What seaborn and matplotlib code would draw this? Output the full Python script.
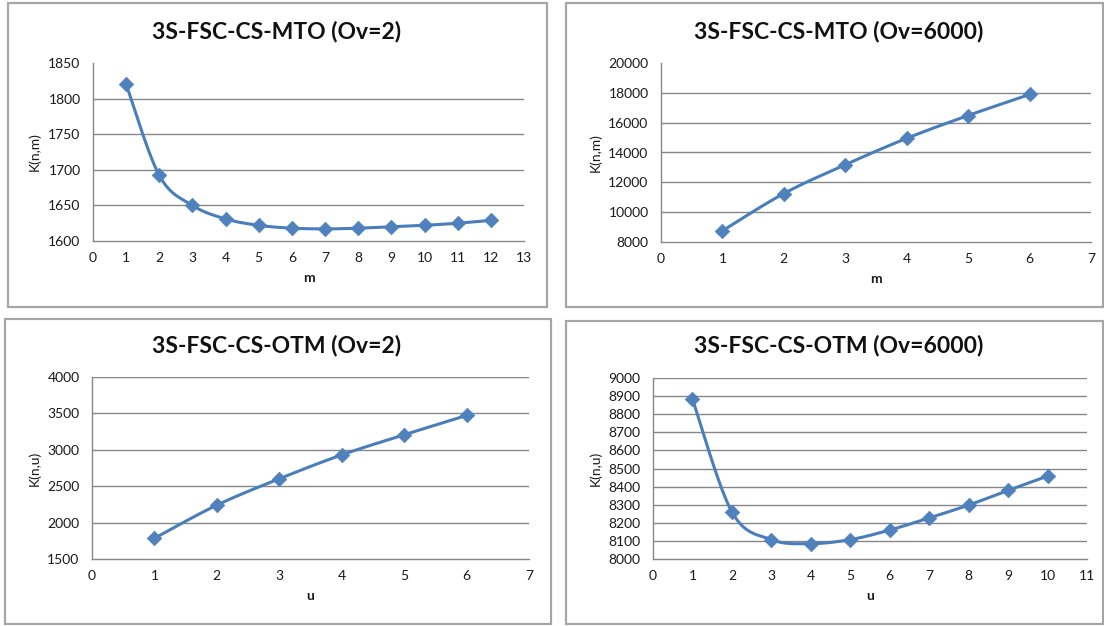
import numpy as np
import pandas as pd
import matplotlib
matplotlib.use("Agg")
import matplotlib.pyplot as plt
from matplotlib.patches import Rectangle
import seaborn as sns

# ---------------- data ----------------
titles = ["3S-FSC-CS-MTO (Ov=2)", "3S-FSC-CS-MTO (Ov=6000)",
          "3S-FSC-CS-OTM (Ov=2)", "3S-FSC-CS-OTM (Ov=6000)"]
xlabels = ["m", "m", "u", "u"]
ylabels = ["K(n,m)", "K(n,m)", "K(n,u)", "K(n,u)"]

mto_ov2_x = list(range(1, 13))
mto_ov2_y = [1820, 1692, 1650, 1631, 1622, 1618, 1617, 1618, 1620, 1622, 1625, 1629]

mto_ov6000_x = list(range(1, 7))
mto_ov6000_y = [8750, 11250, 13180, 14950, 16480, 17890]

otm_ov2_x = list(range(1, 7))
otm_ov2_y = [1785, 2240, 2602, 2930, 3206, 3472]

otm_ov6000_x = list(range(1, 11))
otm_ov6000_y = [8884, 8260, 8107, 8085, 8107, 8160, 8227, 8298, 8379, 8458]

xlims = [(0, 13), (0, 7), (0, 7), (0, 11)]
ylims = [(1600, 1850), (8000, 20000), (1500, 4000), (8000, 9000)]
ysteps = [50, 2000, 500, 100]
top_grid = [False, False, True, True]

series = [(mto_ov2_x, mto_ov2_y), (mto_ov6000_x, mto_ov6000_y),
          (otm_ov2_x, otm_ov2_y), (otm_ov6000_x, otm_ov6000_y)]

# ---------------- layout (pixels) ----------------
W, H = 1104, 626
# plot areas: left, right, top, bottom in px
areas = [(93, 524, 63, 241), (661, 1091, 63, 242),
         (92, 529, 377, 559), (653, 1087, 378, 559)]
boxes = [(8, 547, 3, 307), (566, 1103, 3, 307),
         (5, 551, 319, 624), (566, 1103, 321, 624)]
title_pos = [(277, 31), (839, 31), (277, 346), (839, 346)]

sns.set_style("white")
plt.rcParams['font.family'] = ['Lato', 'DejaVu Sans']

LINE = "#4A7EBB"
MARK = "#4F81BD"
GRID = "#878787"
TXT = "#1a1a1a"


def smooth(x, y, n=24):
    P = np.column_stack([np.asarray(x, float), np.asarray(y, float)])
    Q = np.vstack([P[0], P, P[-1]])
    out = []
    t = np.linspace(0, 1, n)[:, None]
    for i in range(len(P) - 1):
        p0, p3 = Q[i + 1], Q[i + 2]
        c1 = p0 + (Q[i + 2] - Q[i]) / 6.0
        c2 = p3 - (Q[i + 3] - Q[i + 1]) / 6.0
        seg = ((1 - t) ** 3) * p0 + 3 * ((1 - t) ** 2) * t * c1 + 3 * (1 - t) * t ** 2 * c2 + t ** 3 * p3
        out.append(seg if i == 0 else seg[1:])
    arr = np.vstack(out)
    return arr[:, 0], arr[:, 1]


fig = plt.figure(figsize=(W / 100, H / 100), dpi=100)

for (l, r, t, b) in boxes:
    fig.patches.append(Rectangle((l / W, 1 - b / H), (r - l) / W, (b - t) / H,
                                 transform=fig.transFigure, fill=False,
                                 edgecolor="#A6A6A6", linewidth=1.6))

for k in range(4):
    l, r, t, b = areas[k]
    ax = fig.add_axes([l / W, 1 - b / H, (r - l) / W, (b - t) / H])
    ax.set_facecolor("none")
    xs, ys = series[k]
    cx, cy = smooth(xs, ys)
    sns.lineplot(x=cx, y=cy, ax=ax, sort=False, color=LINE, linewidth=2.2,
                 estimator=None, zorder=3)
    sns.scatterplot(x=xs, y=ys, ax=ax, marker="D", s=55, color=MARK,
                    edgecolor=MARK, linewidth=0.5, zorder=4)
    y0, y1 = ylims[k]
    ax.set_xlim(*xlims[k])
    ax.set_ylim(y0, y1)
    yt = np.arange(y0, y1 + 1, ysteps[k])
    ax.set_yticks(yt)
    ax.set_xticks(np.arange(xlims[k][0], xlims[k][1] + 1, 1))
    gl = yt[1:] if top_grid[k] else yt[1:-1]
    ax.hlines(gl, xlims[k][0], xlims[k][1], color=GRID, linewidth=1.0, zorder=1)
    for s in ["top", "right"]:
        ax.spines[s].set_visible(False)
    for s in ["left", "bottom"]:
        ax.spines[s].set_color(GRID)
        ax.spines[s].set_linewidth(1.0)
    ax.tick_params(axis="x", length=4, width=1, color=GRID, direction="out",
                   labelsize=10, labelcolor=TXT, pad=4)
    ax.tick_params(axis="y", length=0, labelsize=10, labelcolor=TXT, pad=9)
    ax.grid(False)
    ax.set_xlabel(xlabels[k], fontsize=10, fontweight="bold", color=TXT, labelpad=6)
    ax.set_ylabel(ylabels[k], fontsize=10, color=TXT, labelpad=5)
    tx, ty = title_pos[k]
    fig.text(tx / W, 1 - ty / H, titles[k], ha="center", va="center",
             fontsize=16.5, fontweight="bold", color="#111111")

fig.savefig("out.png", dpi=100)
